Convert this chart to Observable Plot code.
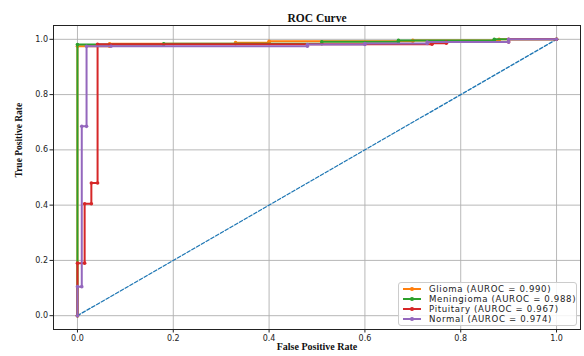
<!DOCTYPE html>
<html>
<head>
<meta charset="utf-8">
<script src="https://cdn.jsdelivr.net/npm/d3@7"></script>
<script src="https://cdn.jsdelivr.net/npm/@observablehq/plot@0.6"></script>
<style>
  html, body { margin: 0; padding: 0; background: #fff; }
  #wrap { position: relative; width: 584px; height: 356px; }
  #legend {
    position: absolute; left: 398px; top: 282px; width: 179px; height: 44px;
    background: rgba(255,255,255,0.85); border: 1px solid #cccccc; border-radius: 3px;
    box-sizing: border-box; font-family: "DejaVu Sans", sans-serif; font-size: 8.6px; color: #222;
    padding: 1px 0 0 4px; letter-spacing: 0.65px;
  }
  .row { display: flex; align-items: center; height: 10px; white-space: nowrap; }
  .sw { position: relative; width: 18px; height: 9px; margin-right: 8px; flex: none; }
  .sw .ln { position: absolute; left: 0; right: 0; top: 3.8px; height: 1.8px; }
  .sw .dt { position: absolute; left: 7.2px; top: 2.9px; width: 3.6px; height: 3.6px; border-radius: 50%; }
</style>
</head>
<body>
<div id="wrap"></div>
<script>
const seriesNames = ["Glioma", "Meningioma", "Pituitary", "Normal"];
const aurocs = [0.990, 0.988, 0.967, 0.974];
const colors = ["#ff7f0e", "#2ca02c", "#d62728", "#9467bd"];
const ticks = [0, 0.2, 0.4, 0.6, 0.8, 1.0];

const gliomaFpr = [0, 0, 0.067, 0.067, 0.33, 0.33, 0.40, 0.40, 0.70, 0.70, 0.88, 0.88, 1];
const gliomaTpr = [0, 0.975, 0.975, 0.984, 0.984, 0.988, 0.988, 0.993, 0.993, 0.996, 0.996, 1, 1];
const meningiomaFpr = [0, 0, 0.18, 0.18, 0.51, 0.51, 0.67, 0.67, 0.87, 0.87, 1];
const meningiomaTpr = [0, 0.981, 0.981, 0.984, 0.984, 0.991, 0.991, 0.996, 0.996, 1, 1];
const pituitaryFpr = [0, 0, 0.015, 0.015, 0.029, 0.029, 0.042, 0.042, 0.74, 0.74, 0.77, 0.77, 0.90, 0.90, 1];
const pituitaryTpr = [0, 0.19, 0.19, 0.405, 0.405, 0.48, 0.48, 0.982, 0.982, 0.986, 0.986, 0.99, 0.99, 1, 1];
const normalFpr = [0, 0, 0.009, 0.009, 0.019, 0.019, 0.07, 0.48, 0.48, 0.60, 0.60, 0.73, 0.73, 0.90, 0.90, 1];
const normalTpr = [0, 0.105, 0.105, 0.685, 0.685, 0.975, 0.975, 0.975, 0.981, 0.981, 0.985, 0.985, 0.99, 0.99, 1, 1];
const diagX = [0, 1];
const diagY = [0, 1];

const fprs = [gliomaFpr, meningiomaFpr, pituitaryFpr, normalFpr];
const tprs = [gliomaTpr, meningiomaTpr, pituitaryTpr, normalTpr];

const curves = seriesNames.map((name, i) => fprs[i].map((x, j) => ({name, x, y: tprs[i][j]})));
const diag = diagX.map((x, j) => ({x, y: diagY[j]}));

const marks = [
  Plot.gridX(ticks, {stroke: "#b0b0b0", strokeOpacity: 1, strokeWidth: 0.9}),
  Plot.gridY(ticks, {stroke: "#b0b0b0", strokeOpacity: 1, strokeWidth: 0.9}),
  Plot.line(diag, {x: "x", y: "y", stroke: "#1f77b4", strokeWidth: 1.3, strokeDasharray: "3.5,2"}),
];
curves.forEach((c, i) => {
  marks.push(Plot.line(c, {x: "x", y: "y", stroke: colors[i], strokeWidth: 2}));
  marks.push(Plot.dot(c, {x: "x", y: "y", fill: colors[i], r: 1.8}));
});
marks.push(Plot.frame({stroke: "#222", strokeWidth: 1}));
marks.push(Plot.axisX(ticks, {tickFormat: d3.format(".1f"), tickSize: 3.5, tickPadding: 2, fontSize: 8, fontFamily: "DejaVu Sans", label: null, stroke: "#222"}));
marks.push(Plot.axisY(ticks, {tickFormat: d3.format(".1f"), tickSize: 3.5, tickPadding: 2, fontSize: 8, fontFamily: "DejaVu Sans", label: null, stroke: "#222"}));
marks.push(Plot.text(["ROC Curve"], {frameAnchor: "top", dy: -12, fontSize: 11.5, fontWeight: "bold", fontFamily: "Liberation Serif", fill: "#111"}));
marks.push(Plot.text(["False Positive Rate"], {frameAnchor: "bottom", dy: 20, fontSize: 10, fontWeight: "bold", fontFamily: "Liberation Serif", fill: "#111"}));
marks.push(Plot.text(["True Positive Rate"], {frameAnchor: "left", dx: -35, rotate: -90, fontSize: 9.5, fontWeight: "bold", fontFamily: "Liberation Serif", fill: "#111"}));

const chart = Plot.plot({
  width: 584, height: 356,
  marginLeft: 53, marginRight: 4, marginTop: 25, marginBottom: 27,
  x: {domain: [-0.05, 1.05]},
  y: {domain: [-0.05, 1.05]},
  style: {background: "#fff", color: "#222"},
  marks
});
const wrap = document.getElementById("wrap");
wrap.appendChild(chart);

const legend = document.createElement("div");
legend.id = "legend";
seriesNames.forEach((n, i) => {
  const row = document.createElement("div");
  row.className = "row";
  row.innerHTML = `<span class="sw"><span class="ln" style="background:${colors[i]}"></span><span class="dt" style="background:${colors[i]}"></span></span><span>${n} (AUROC = ${aurocs[i].toFixed(3)})</span>`;
  legend.appendChild(row);
});
wrap.appendChild(legend);
</script>
</body>
</html>
